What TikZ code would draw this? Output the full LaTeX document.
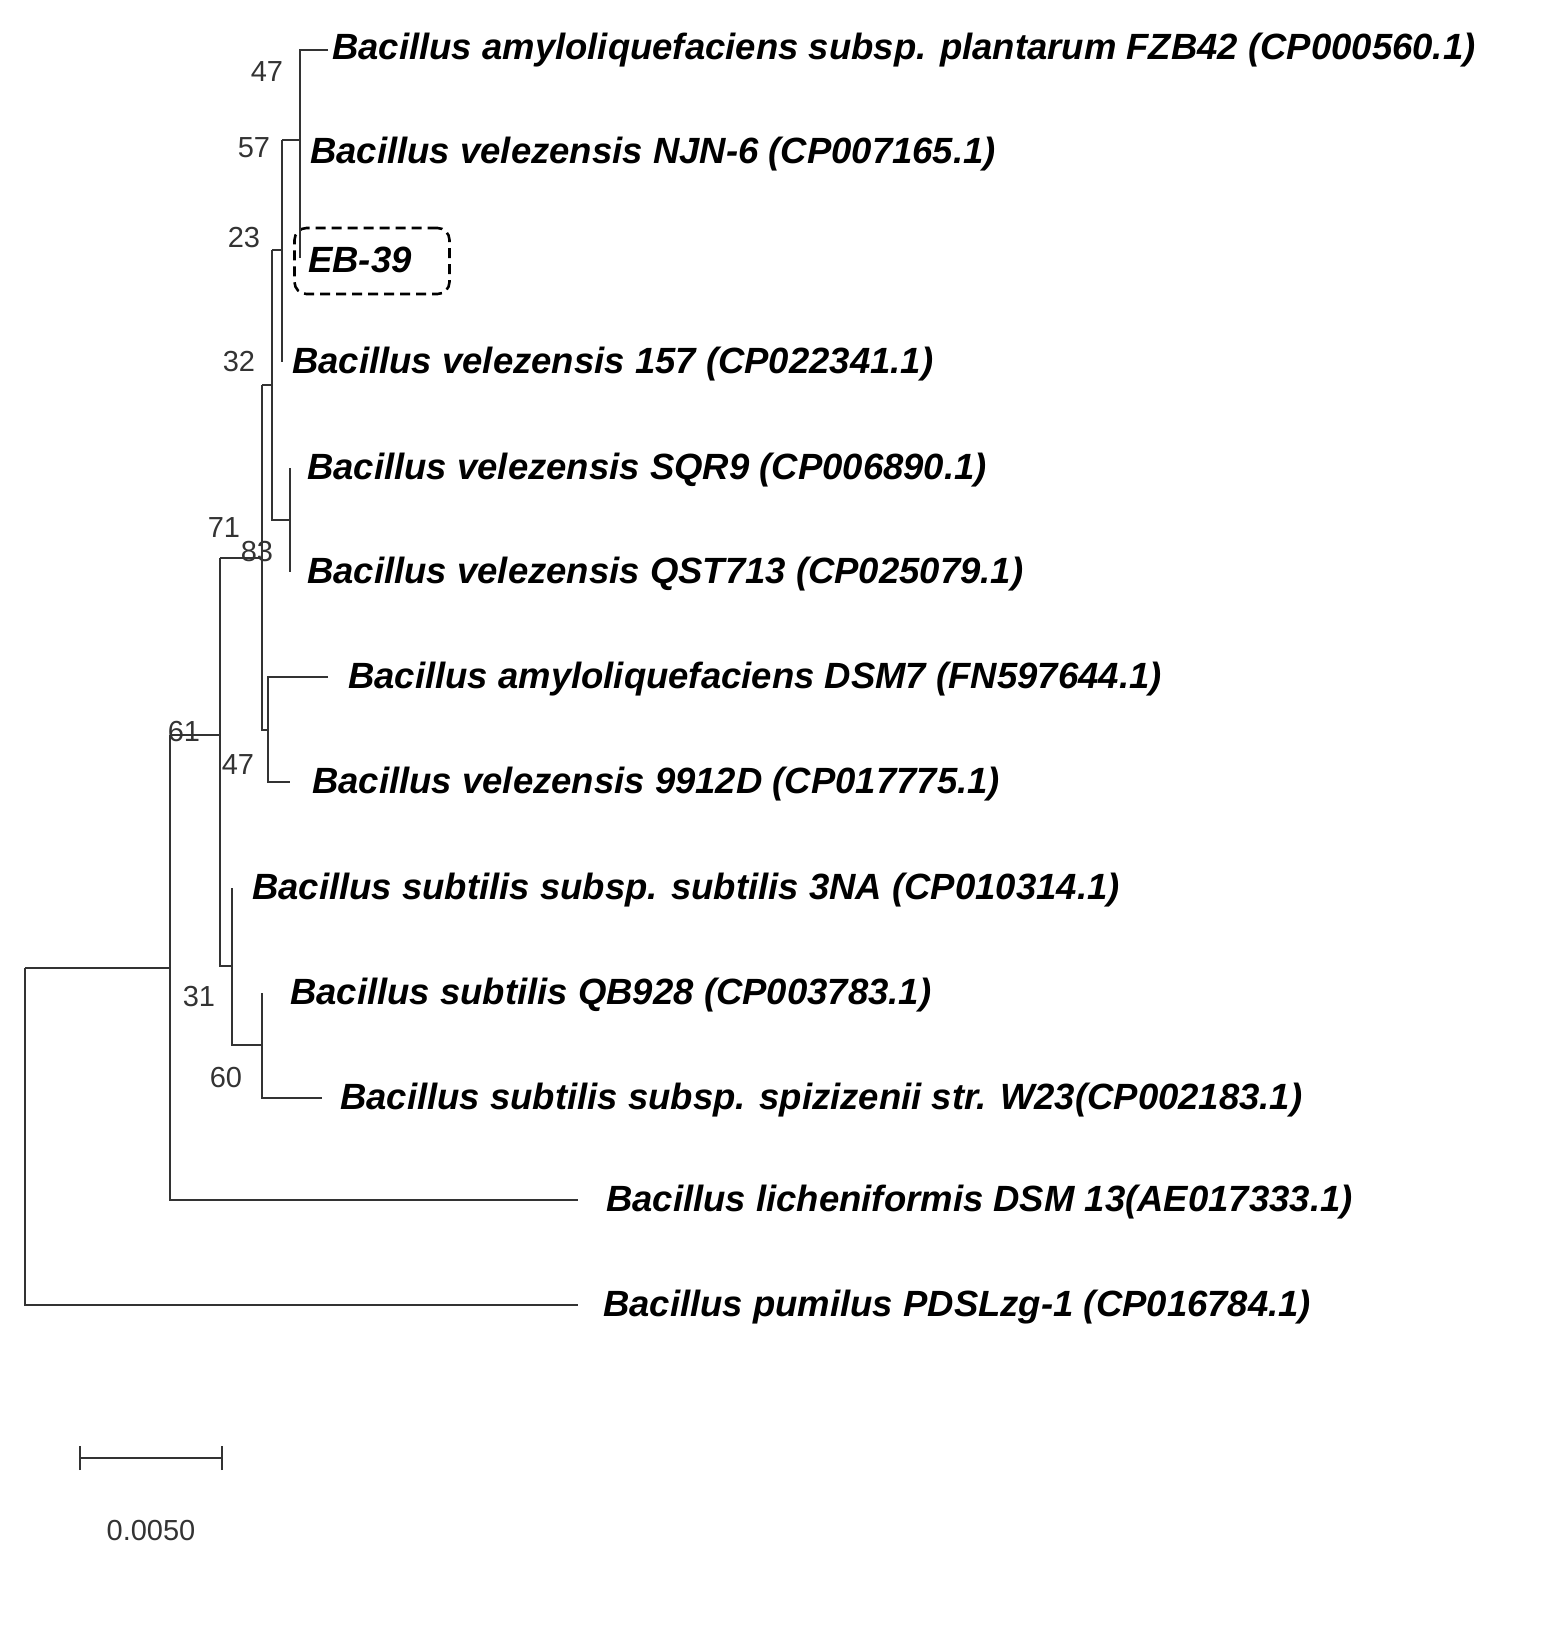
\documentclass[tikz,border=0pt]{standalone}
\usepackage{fontspec}
\setmainfont{Liberation Sans}
\begin{document}
\begin{tikzpicture}[x=1pt,y=-1pt,
  br/.style={line width=2.6pt,black!80},
  lf/.style={anchor=west,inner sep=0pt,font=\fontsize{36.5}{40}\selectfont\bfseries\itshape},
  bs/.style={inner sep=0pt,font=\fontsize{29}{32}\selectfont,text=black!80}]
\useasboundingbox (0,0) rectangle (1554,1628);
% leaf tips
\coordinate (tFZB) at (328,50);
\coordinate (tNJN) at (300,152);
\coordinate (tEB) at (300,258);
\coordinate (t157) at (282,362);
\coordinate (tSQR) at (290,468);
\coordinate (tQST) at (290,572);
\coordinate (tDSM) at (328,677);
\coordinate (t991) at (290,782);
\coordinate (t3NA) at (232,888);
\coordinate (tQB) at (262,993);
\coordinate (tW23) at (322,1098);
\coordinate (tLic) at (578,1200);
\coordinate (tPum) at (578,1305);
% labels
\node[lf] (lFZB) at (332,50) {Bacillus amyloliquefaciens subsp. plantarum FZB42 (CP000560.1)};
\node[lf] (lNJN) at (310,154) {Bacillus velezensis NJN-6 (CP007165.1)};
\node[lf] (lEB) at (308,260) {EB-39};
\node[draw,line width=2.6pt,dash pattern=on 10pt off 6pt,rounded corners=12pt,minimum width=155pt,minimum height=66pt] (box) at (372,261) {};
\node[lf] (l157) at (292,364) {Bacillus velezensis 157 (CP022341.1)};
\node[lf] (lSQR) at (307,470) {Bacillus velezensis SQR9 (CP006890.1)};
\node[lf] (lQST) at (307,574) {Bacillus velezensis QST713 (CP025079.1)};
\node[lf] (lDSM) at (348,679) {Bacillus amyloliquefaciens DSM7 (FN597644.1)};
\node[lf] (l991) at (312,784) {Bacillus velezensis 9912D (CP017775.1)};
\node[lf] (l3NA) at (252,890) {Bacillus subtilis subsp. subtilis 3NA (CP010314.1)};
\node[lf] (lQB) at (290,995) {Bacillus subtilis QB928 (CP003783.1)};
\node[lf] (lW23) at (340,1100) {Bacillus subtilis subsp. spizizenii str. W23(CP002183.1)};
\node[lf] (lLic) at (606,1202) {Bacillus licheniformis DSM 13(AE017333.1)};
\node[lf] (lPum) at (603,1307) {Bacillus pumilus PDSLzg-1 (CP016784.1)};
% internal node coordinates
\coordinate (n1) at (300,140);
\coordinate (n2) at (282,250);
\coordinate (n4) at (290,520);
\coordinate (n3) at (272,385);
\coordinate (n6) at (268,730);
\coordinate (n5) at (262,558);
\coordinate (n9) at (262,1045);
\coordinate (n8) at (232,966);
\coordinate (n7) at (220,735);
\coordinate (n10) at (170,968);
\coordinate (n0) at (25,1130);
\draw[br] (tFZB) -- (tFZB -| n1) -- (tEB -| n1) -- (tEB);
\draw[br] (n2 |- n1) -- (n1);
\draw[br] (n2 |- n1) -- (n2 |- t157) -- (t157);
\draw[br] (n3 |- n2) -- (n2);
\draw[br] (n3 |- n2) -- (n3 |- n4) -- (n4);
\draw[br] (tSQR) -- (tSQR -| n4) -- (tQST -| n4) -- (tQST);
\draw[br] (n5 |- n3) -- (n3);
\draw[br] (n5 |- n3) -- (n5 |- n6) -- (n6);
\draw[br] (tDSM) -- (tDSM -| n6) -- (t991 -| n6) -- (t991);
\draw[br] (n7 |- n5) -- (n5);
\draw[br] (n7 |- n5) -- (n7 |- n8) -- (n8);
\draw[br] (t3NA) -- (t3NA -| n8) -- (n9 -| n8) -- (n9);
\draw[br] (tQB) -- (tQB -| n9) -- (tW23 -| n9) -- (tW23);
\draw[br] (n10 |- n7) -- (n7);
\draw[br] (n10 |- n7) -- (n10 |- tLic) -- (tLic);
\draw[br] (n0 |- n10) -- (n10);
\draw[br] (n0 |- n10) -- (n0 |- tPum) -- (tPum);
% bootstrap values
\node[bs] (b1) at (267,72) {47};
\node[bs] (b2) at (254,148) {57};
\node[bs] (b3) at (244,238) {23};
\node[bs] (b4) at (239,362) {32};
\node[bs] (b5) at (224,528) {71};
\node[bs] (b6) at (257,552) {83};
\node[bs] (b7) at (184,732) {61};
\node[bs] (b8) at (238,765) {47};
\node[bs] (b9) at (199,997) {31};
\node[bs] (b10) at (226,1078) {60};
% scale bar
\coordinate (s1) at (80,1458);
\coordinate (s2) at (222,1458);
\draw[br] (s1) -- (s2);
\draw[br] ([yshift=-12pt]s1) -- ([yshift=12pt]s1);
\draw[br] ([yshift=-12pt]s2) -- ([yshift=12pt]s2);
\node[bs] (sl) at (151,1530) {0.0050};
\end{tikzpicture}
\end{document}
